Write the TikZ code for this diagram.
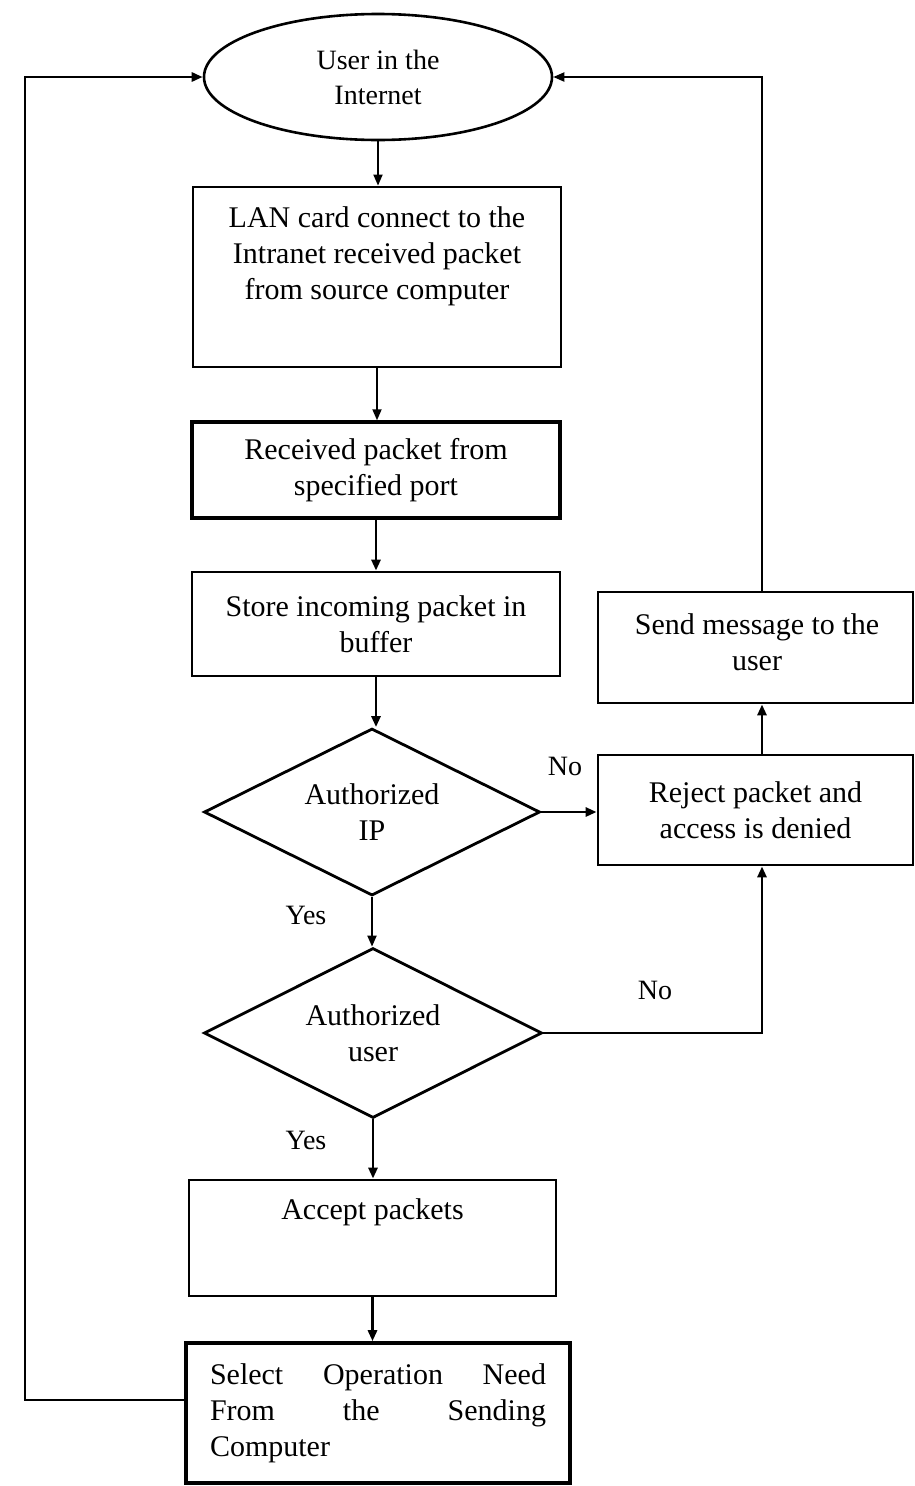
\documentclass[tikz,border=0pt]{standalone}
\usepackage{fontspec}
\setmainfont{Liberation Serif}
\usetikzlibrary{shapes.geometric,arrows.meta,calc}
\begin{document}
\begin{tikzpicture}[x=1pt,y=-1pt,
  every node/.style={font=\fontsize{30}{36}\selectfont},
  box/.style={draw, line width=2.8pt, rectangle, inner sep=0pt},
  dia/.style={draw, line width=2.8pt, diamond, aspect=2, inner sep=0pt, align=center},
  arr/.style={line width=2.8pt, -{Triangle[length=11pt,width=9pt]}},
  lbl/.style={font=\fontsize{28}{34}\selectfont}]
\useasboundingbox (0,0) rectangle (914,1486);

\node[ellipse, draw, line width=2.6pt, minimum width=348pt, minimum height=126pt, inner sep=0pt, align=center, font=\fontsize{28}{35}\selectfont] (user) at (378,77) {User in the\\Internet};

\node[box, minimum width=368pt, minimum height=180pt] (lan) at (377,277) {};
\node[align=center, anchor=north] (lant) at ([yshift=-18pt]lan.north) {LAN card connect to the\\Intranet received packet\\from source computer};

\node[box, line width=3.4pt, minimum width=368pt, minimum height=96pt, align=center] (recv) at (376,470) {Received packet from\\specified port};
\node[box, minimum width=368pt, minimum height=104pt, align=center] (store) at (376,624) {Store incoming packet in\\buffer};
\node[dia, minimum width=336pt, minimum height=167pt] (ip) at (372,812) {Authorized\\IP};
\node[box, minimum width=315pt, minimum height=110pt, align=center] (reject) at (755.5,810) {Reject packet and\\access is denied};
\node[box, minimum width=315pt, minimum height=111pt] (send) at (755.5,647.5) {};
\node[align=center] (sendt) at (757,642) {Send message to the\\user};
\node[dia, minimum width=338pt, minimum height=170pt] (auser) at (373,1033) {Authorized\\user};
\node[box, minimum width=367pt, minimum height=116pt] (accept) at (372.5,1238) {};
\node[anchor=north] (acceptt) at ([yshift=-17pt]accept.north) {Accept packets};
\node[box, line width=3.6pt, minimum width=384pt, minimum height=140pt, text width=336pt, align=left] (select) at (378,1413) {Select\hfill Operation\hfill Need\\From\hfill the\hfill Sending\\Computer};

\coordinate (ltop) at (25,77);
\coordinate (rtop) at (762,77);

\draw[arr, line width=1.8pt] (user.south) -- (user.south |- lan.north);
\draw[arr, line width=1.8pt] (lan.south) -- (lan.south |- recv.north);
\draw[arr] (recv.south) -- (store.north);
\draw[arr] (store.south) -- (store.south |- ip.north);
\draw[arr] (ip.east) -- (ip.east -| reject.west);
\draw[arr] (reject.north -| rtop) -- (send.south -| rtop);
\draw[arr, line width=2pt] (send.north -| rtop) -- (rtop) -- (user.east);
\draw[arr, line width=2pt] (ip.south) -- (ip.south |- auser.north);
\draw[arr] (auser.east) -| (reject.south -| rtop);
\draw[arr] (auser.south) -- (auser.south |- accept.north);
\draw[arr] (accept.south) -- (accept.south |- select.north);
\draw[arr] ([yshift=13pt]select.west) -| (ltop) -- (user.west);

\node[lbl] (no1) at (565,766) {No};
\node[lbl] (yes1) at (306,915) {Yes};
\node[lbl] (no2) at (655,990) {No};
\node[lbl] (yes2) at (306,1140) {Yes};
\end{tikzpicture}
\end{document}
